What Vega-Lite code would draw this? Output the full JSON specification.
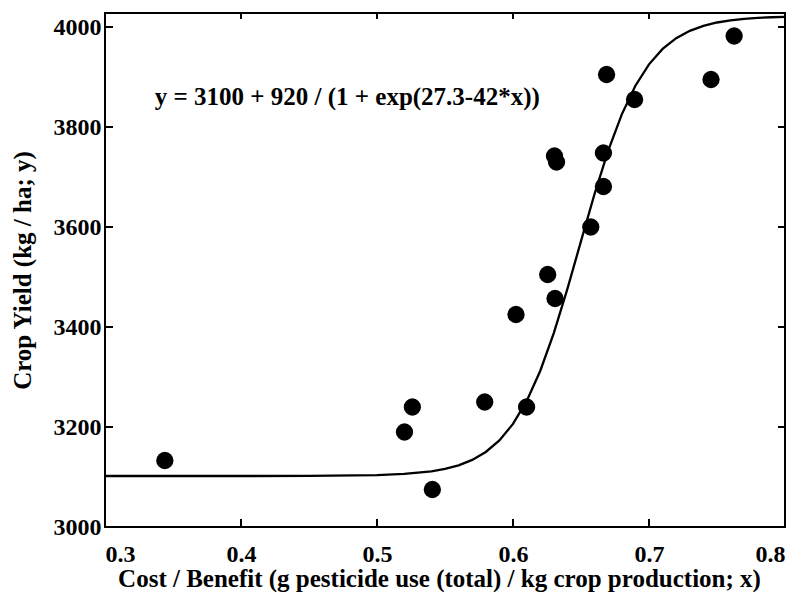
{
  "$schema": "https://vega.github.io/schema/vega-lite/v6.json",
  "width": 680,
  "height": 514,
  "autosize": {"type": "none"},
  "padding": {"left": 105, "top": 13, "right": 18, "bottom": 65},
  "background": "white",
  "config": {
    "view": {"stroke": "black", "strokeWidth": 2},
    "axis": {
      "labelFont": "Liberation Serif",
      "labelFontWeight": "bold",
      "labelFontSize": 24,
      "labelColor": "black",
      "titleFont": "Liberation Serif",
      "titleFontWeight": "bold",
      "titleFontSize": 25,
      "titleColor": "black",
      "domain": false,
      "grid": false,
      "ticks": false
    }
  },
  "datasets": {
    "curve": [
      {"x": 0.30, "y": 3102.0},
      {"x": 0.40, "y": 3102.0},
      {"x": 0.45, "y": 3102.2},
      {"x": 0.50, "y": 3103.8},
      {"x": 0.52, "y": 3106.1},
      {"x": 0.54, "y": 3111.4},
      {"x": 0.55, "y": 3116.2},
      {"x": 0.56, "y": 3123.4},
      {"x": 0.57, "y": 3134.2},
      {"x": 0.58, "y": 3150.1},
      {"x": 0.59, "y": 3173.2},
      {"x": 0.60, "y": 3206.2},
      {"x": 0.61, "y": 3251.7},
      {"x": 0.62, "y": 3312.0},
      {"x": 0.63, "y": 3387.6},
      {"x": 0.64, "y": 3476.1},
      {"x": 0.65, "y": 3571.7},
      {"x": 0.66, "y": 3666.4},
      {"x": 0.67, "y": 3752.6},
      {"x": 0.68, "y": 3825.3},
      {"x": 0.69, "y": 3882.5},
      {"x": 0.70, "y": 3925.3},
      {"x": 0.71, "y": 3956.1},
      {"x": 0.72, "y": 3977.6},
      {"x": 0.73, "y": 3992.4},
      {"x": 0.74, "y": 4002.3},
      {"x": 0.75, "y": 4009.0},
      {"x": 0.76, "y": 4013.4},
      {"x": 0.77, "y": 4016.3},
      {"x": 0.78, "y": 4018.3},
      {"x": 0.79, "y": 4019.5},
      {"x": 0.80, "y": 4020.4}
    ],
    "points": [
      {"x": 0.344, "y": 3133},
      {"x": 0.5202, "y": 3190},
      {"x": 0.526, "y": 3240},
      {"x": 0.5407, "y": 3075},
      {"x": 0.5792, "y": 3250},
      {"x": 0.6022, "y": 3425},
      {"x": 0.6100, "y": 3240},
      {"x": 0.6255, "y": 3505},
      {"x": 0.6309, "y": 3457},
      {"x": 0.6305, "y": 3742},
      {"x": 0.6320, "y": 3730},
      {"x": 0.6572, "y": 3600},
      {"x": 0.6665, "y": 3748},
      {"x": 0.6665, "y": 3681},
      {"x": 0.6688, "y": 3905},
      {"x": 0.6894, "y": 3855},
      {"x": 0.7456, "y": 3895},
      {"x": 0.7626, "y": 3982}
    ],
    "xticks": [{"v": 0.4}, {"v": 0.5}, {"v": 0.6}, {"v": 0.7}],
    "yticks": [{"v": 3200}, {"v": 3400}, {"v": 3600}, {"v": 3800}, {"v": 4000}],
    "label": [
      {"x": 0.3366, "y": 3860, "text": "y = 3100 + 920 / (1 + exp(27.3-42*x))"}
    ]
  },
  "layer": [
    {
      "data": {"name": "curve"},
      "mark": {"type": "line", "color": "black", "strokeWidth": 2.3},
      "encoding": {
        "x": {
          "field": "x", "type": "quantitative",
          "scale": {"domain": [0.3, 0.8], "nice": false, "zero": false},
          "axis": {
            "orient": "bottom",
            "values": [0.3, 0.4, 0.5, 0.6, 0.7, 0.8],
            "format": ".1f",
            "labelPadding": 15,
            "titlePadding": 0,
            "titleX": 334,
            "title": "Cost / Benefit (g pesticide use (total) / kg crop production; x)"
          }
        },
        "y": {
          "field": "y", "type": "quantitative",
          "scale": {"domain": [3000, 4028], "nice": false, "zero": false},
          "axis": {
            "orient": "left",
            "values": [3000, 3200, 3400, 3600, 3800, 4000],
            "format": "d",
            "labelPadding": 4,
            "titlePadding": 18,
            "title": "Crop Yield (kg / ha; y)"
          }
        }
      }
    },
    {
      "data": {"name": "points"},
      "mark": {"type": "circle", "color": "black", "opacity": 1, "size": 300},
      "encoding": {
        "x": {"field": "x", "type": "quantitative"},
        "y": {"field": "y", "type": "quantitative"}
      }
    },
    {
      "data": {"name": "xticks"},
      "mark": {"type": "tick", "orient": "vertical", "color": "black", "opacity": 1, "size": 8, "thickness": 2, "yOffset": -4},
      "encoding": {
        "x": {"field": "v", "type": "quantitative"},
        "y": {"datum": 3000, "type": "quantitative"}
      }
    },
    {
      "data": {"name": "xticks"},
      "mark": {"type": "tick", "orient": "vertical", "color": "black", "opacity": 1, "size": 6, "thickness": 2, "yOffset": 3},
      "encoding": {
        "x": {"field": "v", "type": "quantitative"},
        "y": {"datum": 4028, "type": "quantitative"}
      }
    },
    {
      "data": {"name": "yticks"},
      "mark": {"type": "tick", "orient": "horizontal", "color": "black", "opacity": 1, "size": 8, "thickness": 2, "xOffset": 4},
      "encoding": {
        "y": {"field": "v", "type": "quantitative"},
        "x": {"datum": 0.3, "type": "quantitative"}
      }
    },
    {
      "data": {"name": "yticks"},
      "mark": {"type": "tick", "orient": "horizontal", "color": "black", "opacity": 1, "size": 7, "thickness": 2, "xOffset": -3.5},
      "encoding": {
        "y": {"field": "v", "type": "quantitative"},
        "x": {"datum": 0.8, "type": "quantitative"}
      }
    },
    {
      "data": {"name": "label"},
      "mark": {"type": "text", "align": "left", "baseline": "middle", "font": "Liberation Serif", "fontWeight": "bold", "fontSize": 25, "color": "black"},
      "encoding": {
        "x": {"field": "x", "type": "quantitative"},
        "y": {"field": "y", "type": "quantitative"},
        "text": {"field": "text"}
      }
    }
  ]
}
